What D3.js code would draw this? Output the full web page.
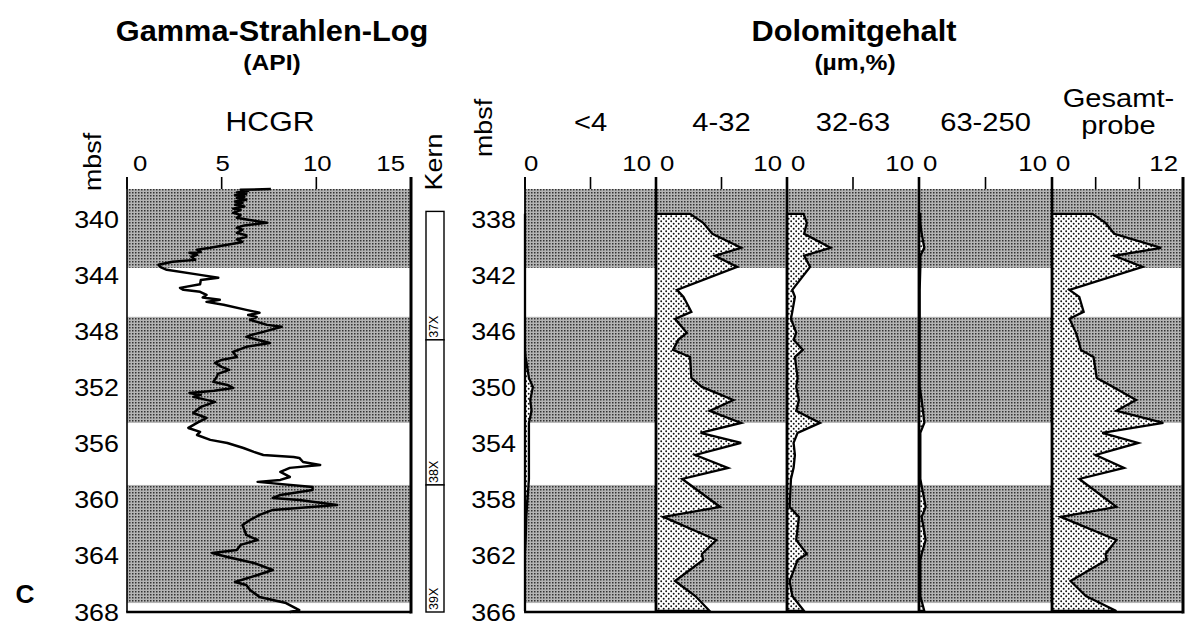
<!DOCTYPE html>
<html><head><meta charset="utf-8">
<script src="https://cdn.jsdelivr.net/npm/d3@7/dist/d3.min.js"></script>
<style>body{margin:0;background:#fff}svg{display:block}</style>
</head><body><svg id="c" width="1187" height="632"></svg>
<script>
// ---------- DATA ----------
// Gamma ray log (HCGR, API) vs depth (mbsf)
const gammaDepth = [337.8,337.86,337.95,338.05,338.15,338.25,338.35,338.45,338.57,338.7,338.8,338.93,339.05,339.2,339.3,339.5,339.65,339.86,340.0,340.21,340.4,340.57,340.7,340.93,341.1,341.21,341.4,341.57,341.64,342.0,342.14,342.3,342.36,342.5,342.64,342.86,343.0,343.21,343.4,343.57,343.93,344.14,344.3,344.6,344.86,345.0,345.14,345.36,345.55,345.71,345.86,346.07,346.43,346.64,346.8,346.93,347.14,347.5,347.64,348.0,348.2,348.36,348.79,349.07,349.43,349.79,350.0,350.21,350.5,350.71,351.0,351.21,351.57,351.79,352.0,352.2,352.36,352.5,352.64,353.0,353.36,353.79,354.14,354.5,354.86,355.14,355.36,355.71,355.93,356.29,356.57,356.79,356.93,357.0,357.29,357.5,357.71,358.0,358.36,358.57,358.71,359.07,359.29,359.64,359.86,360.0,360.36,360.71,361.07,361.43,361.79,362.14,362.5,362.86,363.21,363.57,363.79,364.07,364.5,365.0,365.36,365.86,366.07,366.43,366.93,367.36,367.86,368.0];
const gammaValue = [7.6,6.0,6.4,5.8,6.3,5.7,6.2,5.8,6.3,5.7,6.1,5.7,6.2,5.6,6.0,5.6,6.0,5.8,6.4,7.4,6.2,5.8,6.1,5.8,6.3,6.3,5.8,6.1,5.9,4.4,3.7,3.9,3.3,3.7,3.4,3.6,2.4,1.66,1.8,2.1,3.86,4.82,3.9,3.86,2.8,2.98,3.86,4.2,4.0,4.9,4.2,5.1,6.3,7.0,6.4,6.85,6.5,7.4,8.17,7.2,6.6,6.3,7.55,6.3,5.6,5.8,5.0,4.65,5.0,5.4,4.8,4.74,4.56,5.3,5.6,4.6,3.3,3.9,3.5,4.65,3.9,3.5,4.2,3.7,3.24,3.86,3.7,4.4,5.3,6.15,6.7,7.2,8.8,9.1,9.3,10.2,8.6,8.1,8.6,8.1,6.9,9.8,9.8,8.1,7.7,9.1,11.1,7.7,7.0,6.5,6.1,6.2,6.3,6.9,6.0,5.8,4.5,5.3,6.7,7.7,6.9,5.7,6.3,6.5,7.0,8.4,9.1,8.6];
const gammaTicks = [0,5,10,15];
const gammaDepthTicks = [340,344,348,352,356,360,364,368];
const gammaBandTop = [337.8,346.93,358.93];
const gammaBandBottom = [343.43,354.5,367.36];
// Cores
const coreNames = ["37X","38X","39X"];
const coreTop = [339.4,348.57,358.93];
const coreBottom = [348.57,358.93,368.0];
// Dolomite content (%) per grain-size fraction vs depth (mbsf)
const dolDepth = [337.57,338.21,339.0,340.0,340.57,341.36,343.0,343.5,344.57,345.07,346.07,346.57,347.29,347.79,349.29,349.93,350.86,351.64,352.5,353.21,353.93,354.79,355.71,356.5,358.5,359.21,360.86,361.86,362.29,363.79,364.86,365.93];
const dolLt4   = [0,0,0,0,0,0,0,0,0,0,0,0,0,0.05,0.3,0.6,0.4,0.5,0.3,0.3,0.3,0.3,0.3,0.3,0.15,0.1,0.05,0,0,0,0,0];
const dol4_32  = [2.6,3.6,4.3,6.5,4.5,6.2,1.6,2.1,2.7,1.45,2.35,1.7,1.3,2.6,2.7,3.5,5.9,4.1,6.5,3.4,6.5,3.0,5.5,2.0,4.9,0.56,4.6,3.5,3.6,1.45,3.0,4.1];
const dol32_63 = [1.25,1.5,1.3,3.3,1.3,1.75,0.4,0.6,0.4,0.3,0.7,0.5,1.2,0.6,0.8,0.7,0.9,0.7,2.5,0.8,0.5,0.6,0.5,0.3,0.2,0.9,0.7,1.5,0.8,0.2,0.4,1.3];
const dol63_250= [0.1,0.1,0.2,0.4,0.1,0.1,0.05,0.05,0.05,0.05,0.05,0.05,0.05,0.05,0.05,0.05,0.2,0.3,0.4,0.1,0.1,0.1,0.1,0.1,0.5,0.2,0.5,0.2,0.1,0.1,0.1,0.4];
const dolTotal = [3.7,4.9,5.7,10.0,5.7,8.3,1.6,2.5,2.9,1.6,2.2,2.4,2.65,3.8,4.1,5.6,7.7,5.9,10.2,4.6,7.9,4.0,6.6,2.5,5.9,0.8,5.9,4.9,5.0,1.7,3.1,5.9];
const dolNames = ["<4","4-32","32-63","63-250","Gesamt-|probe"];
const dolMax = [10,10,10,10,12];
const dolTickStep = [5,5,5,5,4];
const dolDepthTicks = [338,342,346,350,354,358,362,366];
const dolBandTop = [335.8,344.93,356.93];
const dolBandBottom = [341.43,352.5,365.36];

// ---------- DRAW ----------
const svg = d3.select("#c");
const FONT = "'Liberation Sans', Arial, Helvetica, sans-serif";
const SX = 1.12;
const defs = svg.append("defs");
const pg = defs.append("pattern").attr("id","gray").attr("patternUnits","userSpaceOnUse").attr("width",3).attr("height",3);
pg.append("rect").attr("width",3).attr("height",3).attr("fill","#b4b4b4");
pg.append("rect").attr("x",0).attr("y",0).attr("width",1.5).attr("height",1.5).attr("fill","#333");
const ps = defs.append("pattern").attr("id","stip").attr("patternUnits","userSpaceOnUse").attr("width",5).attr("height",5);
ps.append("rect").attr("width",5).attr("height",5).attr("fill","#fff");
ps.append("circle").attr("cx",1.2).attr("cy",1.2).attr("r",0.95).attr("fill","#111");
ps.append("circle").attr("cx",3.7).attr("cy",3.7).attr("r",0.95).attr("fill","#111");

function txt(x, y, s, o = {}) {
  const g = svg.append("g").attr("transform", `translate(${x},${y}) rotate(${o.rot||0}) scale(${o.sx||SX},1)`);
  return g.append("text").attr("x",0).attr("y",0).text(s)
    .attr("font-family", FONT).attr("font-size", o.size||24)
    .attr("font-weight", o.bold ? "bold" : "normal")
    .attr("text-anchor", o.anchor||"middle").attr("fill","#000");
}

const yTop = 189, yBot = 612;
// ---- Gamma panel ----
const yG = d3.scaleLinear().domain([337.8, 368]).range([yTop, yBot]);
const xG = d3.scaleLinear().domain([0, 15]).range([127, 411]);
svg.append("g").selectAll("rect").data(gammaBandTop).join("rect")
  .attr("x", xG(0)).attr("width", xG(15)-xG(0))
  .attr("y", d => yG(d)).attr("height", (d,i) => yG(gammaBandBottom[i]) - yG(d))
  .attr("fill","url(#gray)");
const gLine = d3.line().x(d => xG(d[1])).y(d => yG(d[0]));
svg.append("path").datum(gammaDepth.map((d,i)=>[d,gammaValue[i]]))
  .attr("d", gLine).attr("fill","none").attr("stroke","#000").attr("stroke-width",2.5).attr("stroke-linejoin","round");
// frame
svg.append("line").attr("x1",xG(0)).attr("x2",xG(0)).attr("y1",yTop-12).attr("y2",yBot).attr("stroke","#000").attr("stroke-width",1.6);
svg.append("line").attr("x1",xG(15)).attr("x2",xG(15)).attr("y1",yTop-12).attr("y2",yBot+1.5).attr("stroke","#000").attr("stroke-width",3);
svg.append("line").attr("x1",xG(0)-0.8).attr("x2",xG(15)).attr("y1",yBot).attr("y2",yBot).attr("stroke","#000").attr("stroke-width",2.4);
svg.append("g").selectAll("line").data(gammaTicks).join("line")
  .attr("x1", d=>xG(d)).attr("x2", d=>xG(d)).attr("y1", yTop-12).attr("y2", yTop)
  .attr("stroke","#000").attr("stroke-width",1.6);
gammaTicks.forEach((t,i) => {
  const a = i===0 ? "start" : (i===gammaTicks.length-1 ? "end" : "middle");
  const dx = i===0 ? 6 : (i===gammaTicks.length-1 ? -6 : 1);
  txt(xG(t)+dx, 171, String(t), {size:23, anchor:a});
});
gammaDepthTicks.forEach(d => txt(119, yG(d)+8.5, String(d), {size:24, anchor:"end"}));
txt(270, 131, "HCGR", {size:27});
txt(101, 162, "mbsf", {size:24, rot:-90});
txt(272, 41, "Gamma-Strahlen-Log", {size:29, bold:true, sx:1.06});
txt(272, 70, "(API)", {size:22, bold:true, sx:1.12});

// ---- Core column ----
const coreX = 426, coreW = 18;
svg.append("g").selectAll("rect").data(coreNames).join("rect")
  .attr("x", coreX).attr("width", coreW)
  .attr("y", (d,i)=>yG(coreTop[i])).attr("height",(d,i)=>yG(coreBottom[i])-yG(coreTop[i]))
  .attr("fill","#fff").attr("stroke","#000").attr("stroke-width",1.4);
coreNames.forEach((n,i) => txt(coreX+12, yG(coreBottom[i])-2, n, {size:12.5, rot:-90, anchor:"start", sx:1}));
txt(442, 162, "Kern", {size:24, rot:-90});

// ---- Dolomite panels ----
const yD = d3.scaleLinear().domain([335.8, 366]).range([yTop, yBot]);
const dolSeries = [dolLt4, dol4_32, dol32_63, dol63_250, dolTotal];
const panelX = [525, 656, 787, 919, 1052, 1183];
svg.append("g").selectAll("rect").data(dolBandTop).join("rect")
  .attr("x", panelX[0]).attr("width", panelX[5]-panelX[0])
  .attr("y", d => yD(d)).attr("height", (d,i) => yD(dolBandBottom[i]) - yD(d))
  .attr("fill","url(#gray)");
dolSeries.forEach((vals, k) => {
  const x = d3.scaleLinear().domain([0, dolMax[k]]).range([panelX[k], panelX[k+1]]);
  const pts = [[0, dolDepth[0]]].concat(dolDepth.map((d,i)=>[vals[i], d]), [[0, dolDepth[dolDepth.length-1]]]);
  const line = d3.line().x(p=>x(p[0])).y(p=>yD(p[1]));
  svg.append("path").attr("d", line(pts)+"Z").attr("fill","url(#stip)")
    .attr("stroke","#000").attr("stroke-width",2.3).attr("stroke-linejoin","miter").attr("stroke-miterlimit",4);
  const ticks = d3.range(0, dolMax[k]+0.001, dolTickStep[k]);
  svg.append("g").selectAll("line").data(ticks).join("line")
    .attr("x1", d=>x(d)).attr("x2", d=>x(d)).attr("y1", yTop-12).attr("y2", yTop)
    .attr("stroke","#000").attr("stroke-width",1.6);
  txt(x(0)+(k===0?-1:4), 171, "0", {size:23, anchor:"start"});
  txt(x(dolMax[k])-5, 171, String(dolMax[k]), {size:23, anchor:"end"});
  const parts = dolNames[k].split("|");
  if (parts.length === 1) txt((panelX[k]+panelX[k+1])/2, 131, parts[0], {size:26});
  else { txt((panelX[k]+panelX[k+1])/2 + 1, 107, parts[0], {size:26}); txt((panelX[k]+panelX[k+1])/2 + 1, 134, parts[1], {size:26}); }
});
// separators & frame
panelX.forEach((px, i) => {
  svg.append("line").attr("x1",px).attr("x2",px).attr("y1",yTop-12).attr("y2",yBot+(i===5?1.5:0))
    .attr("stroke","#000").attr("stroke-width", i===0 ? 1.8 : (i===5 ? 3 : 2.6));
});
svg.append("line").attr("x1",panelX[0]-0.9).attr("x2",panelX[5]).attr("y1",yBot).attr("y2",yBot).attr("stroke","#000").attr("stroke-width",2.4);
dolDepthTicks.forEach(d => txt(516, yD(d)+8.5, String(d), {size:24, anchor:"end"}));
txt(492, 128, "mbsf", {size:24, rot:-90});
txt(854, 41, "Dolomitgehalt", {size:29, bold:true, sx:1.06});
txt(855, 70, "(\u00b5m,%)", {size:22, bold:true, sx:1.12});

// ---- panel letter ----
txt(25, 603, "C", {size:25, bold:true, sx:1.05});
</script></body></html>
